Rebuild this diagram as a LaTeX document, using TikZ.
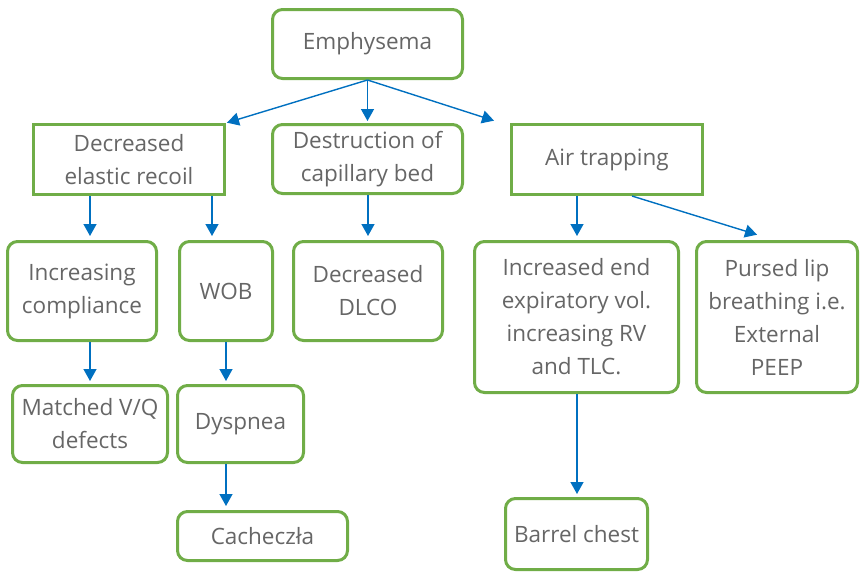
\documentclass[tikz,border=0pt]{standalone}
\usepackage{fontspec}
\setmainfont{Open Sans}
\usetikzlibrary{arrows.meta}
\definecolor{boxgreen}{HTML}{70AD47}
\definecolor{linkblue}{HTML}{0070C0}
\definecolor{labelgray}{HTML}{666666}
\begin{document}
\begin{tikzpicture}[x=1pt,y=-1pt,
  box/.style={draw=boxgreen, line width=3pt, fill=white, text=labelgray,
    align=center, inner sep=0pt, font=\fontsize{22.5}{33}\selectfont},
  roundbox/.style={box, rounded corners=10pt},
  arr/.style={draw=linkblue, line width=1.4pt,
    -{Triangle[length=12pt,width=13pt]}, shorten >=1pt}]
\useasboundingbox (0,0) rectangle (860,571);

% top level
\node[roundbox, minimum width=190pt, minimum height=69pt] (emph) at (367.5,44) {Emphysema};

% second level
\node[box, minimum width=191pt, minimum height=70pt] (der) at (129,159.5) {Decreased\\elastic recoil};
\node[roundbox, minimum width=190pt, minimum height=69pt] (dcb) at (367.5,159) {Destruction of\\capillary bed};
\node[box, minimum width=191pt, minimum height=70pt] (air) at (607,159.5) {Air trapping};

% third level
\node[roundbox, minimum width=149pt, minimum height=99pt] (inc) at (82,291) {Increasing\\compliance};
\node[roundbox, minimum width=93pt, minimum height=99pt] (wob) at (226,291) {WOB};
\node[roundbox, minimum width=149pt, minimum height=99pt] (dlco) at (368,291) {Decreased\\DLCO};
\node[roundbox, minimum width=204pt, minimum height=151pt] (iev) at (576.5,317) {Increased end\\expiratory vol.\\increasing RV\\and TLC.};
\node[roundbox, minimum width=161pt, minimum height=151pt] (pur) at (777,317) {Pursed lip\\breathing i.e.\\External\\PEEP};

% fourth level
\node[roundbox, minimum width=155pt, minimum height=77pt] (mvq) at (90,424) {Matched V/Q\\defects};
\node[roundbox, minimum width=126pt, minimum height=77pt] (dys) at (240.5,424) {Dyspnea};
\node[roundbox, minimum width=142pt, minimum height=71pt] (bar) at (576.5,534) {Barrel chest};

% fifth level
\node[roundbox, minimum width=170pt, minimum height=49pt] (cac) at (262.5,536) {Cachecz\l a};

% connectors
\draw[arr] (emph.south) -- (der.north east);
\draw[arr] (emph.south) -- ([yshift=1pt]dcb.north);
\draw[arr] (emph.south) -- ([shift={(-15pt,2pt)}]air.north west);

\draw[arr] (der.south -| 90,0) -- ([yshift=3pt]inc.north -| 90,0);
\draw[arr] (der.south -| 212,0) -- ([yshift=3pt]wob.north -| 212,0);
\draw[arr] (dcb.south -| 368,0) -- ([yshift=3pt]dlco.north -| 368,0);
\draw[arr] (air.south -| 577,0) -- ([yshift=3pt]iev.north -| 577,0);
\draw[arr] ([xshift=25pt]air.south) -- ([shift={(-19pt,5pt)}]pur.north);

\draw[arr] (inc.south -| 90,0) -- ([yshift=2pt]mvq.north -| 90,0);
\draw[arr] (wob.south -| 226,0) -- ([yshift=2pt]dys.north -| 226,0);
\draw[arr] (dys.south -| 226,0) -- ([yshift=3pt]cac.north -| 226,0);
\draw[arr] (iev.south -| 577,0) -- ([yshift=2pt]bar.north -| 577,0);
\end{tikzpicture}
\end{document}
